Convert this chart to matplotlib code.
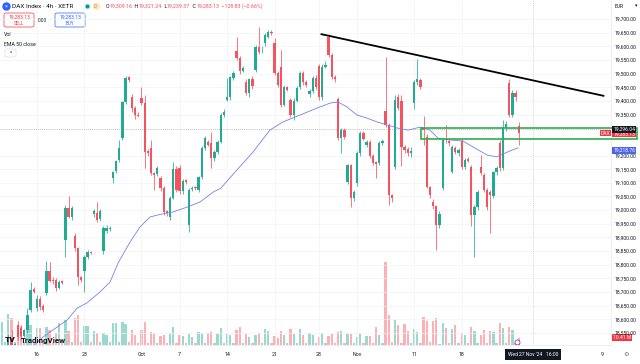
"""DAX Index 4h (XETR) candles with volume, EMA 50, trendline and support zone."""
import matplotlib
matplotlib.use("Agg")
import matplotlib.pyplot as plt
from matplotlib.lines import Line2D
from matplotlib.patches import FancyBboxPatch, Rectangle
import numpy as np

plt.rcParams.update({"font.family": ["Roboto", "DejaVu Sans"], "font.size": 3.6})

W, H = 640, 364
UP, DOWN = "#22ab94", "#f7525f"
INK = "#131722"
BLUE = "#4f63ec"

# ---- data (4h candles, oldest first) ----
opens = [
    18440, 18470, 18480, 18530, 18505, 18580, 18570, 18540, 18561, 18634,
    18710, 18640, 18675, 18650, 18696, 18777, 18745, 18745, 18715, 18740,
    18890, 19008, 18975, 18905, 18860, 18755, 18777, 18828, 18848, 18985,
    18990, 18967, 18850, 18925, 18930, 19118, 19143, 19183, 19264, 19396,
    19487, 19414, 19374, 19350, 19410, 19392, 19215, 19228, 19135, 19132,
    19118, 19081, 18995, 18975, 19044, 19150, 19154, 19070, 19110, 18945,
    19078, 19082, 19074, 19121, 19228, 19248, 19245, 19190, 19213, 19250,
    19348, 19405, 19414, 19484, 19583, 19557, 19510, 19469, 19429, 19480,
    19513, 19597, 19585, 19612, 19635, 19652, 19612, 19502, 19524, 19385,
    19451, 19403, 19350, 19400, 19451, 19502, 19469, 19425, 19436, 19484,
    19528, 19414, 19525, 19634, 19568, 19488, 19407, 19264, 19293, 19103,
    19165, 19044, 19099, 19209, 19282, 19238, 19250, 19198, 19176, 19172,
    19246, 19363, 19312, 19055, 19158, 19414, 19400, 19231, 19224, 19209,
    19392, 19470, 19477, 19300, 19268, 19085, 19030, 19015, 18945, 19081,
    19257, 19253, 19140, 19228, 19210, 19253, 19158, 19186, 19158, 18982,
    19011, 19158, 19129, 19074, 19066, 19052, 19140, 19246, 19154, 19300,
    19465, 19348, 19429, 19309.16,
]
highs = [
    18490, 18485, 18545, 18560, 18515, 18595, 18580, 18565, 18640, 18735,
    18720, 18690, 18685, 18655, 18815, 18810, 18755, 18750, 18745, 18745,
    19020, 19050, 19015, 18915, 18865, 18760, 18835, 18855, 18852, 19005,
    19030, 19005, 18940, 18945, 18940, 19145, 19185, 19255, 19400, 19490,
    19492, 19425, 19380, 19360, 19450, 19420, 19225, 19257, 19140, 19160,
    19125, 19090, 19000, 19050, 19175, 19160, 19165, 19115, 19115, 19080,
    19090, 19090, 19125, 19235, 19270, 19255, 19286, 19220, 19255, 19355,
    19370, 19484, 19492, 19510, 19634, 19565, 19528, 19480, 19485, 19490,
    19605, 19670, 19600, 19650, 19660, 19658, 19630, 19510, 19586, 19458,
    19455, 19410, 19410, 19455, 19510, 19510, 19475, 19445, 19490, 19495,
    19535, 19535, 19545, 19645, 19575, 19495, 19415, 19300, 19300, 19170,
    19170, 19075, 19215, 19290, 19290, 19258, 19258, 19205, 19180, 19252,
    19260, 19561, 19320, 19060, 19420, 19425, 19420, 19240, 19230, 19230,
    19475, 19555, 19485, 19345, 19280, 19090, 19040, 19020, 18995, 19265,
    19312, 19260, 19240, 19235, 19228, 19260, 19190, 19195, 19165, 19020,
    19075, 19202, 19135, 19080, 19075, 19145, 19160, 19255, 19330, 19325,
    19480, 19440, 19440, 19321.24,
]
lows = [
    18420, 18460, 18470, 18495, 18495, 18525, 18525, 18535, 18550, 18625,
    18695, 18630, 18635, 18625, 18690, 18735, 18730, 18705, 18710, 18728,
    18830, 18970, 18965, 18850, 18725, 18735, 18700, 18820, 18838, 18975,
    18955, 18960, 18840, 18915, 18925, 19100, 19135, 19175, 19255, 19390,
    19470, 19360, 19335, 19340, 19385, 19155, 19200, 19128, 19074, 19125,
    19070, 18982, 18980, 18965, 19040, 19065, 19060, 19060, 19095, 18920,
    19070, 19072, 19068, 19115, 19220, 19235, 19154, 19180, 19205, 19245,
    19340, 19400, 19405, 19478, 19550, 19500, 19505, 19420, 19415, 19445,
    19505, 19570, 19575, 19600, 19630, 19640, 19495, 19450, 19378, 19380,
    19435, 19340, 19330, 19395, 19445, 19460, 19450, 19415, 19430, 19445,
    19405, 19405, 19520, 19560, 19480, 19470, 19255, 19209, 19260, 19095,
    19010, 19035, 19090, 19200, 19255, 19230, 19190, 19165, 19118, 19165,
    19240, 19305, 19019, 19030, 19150, 19365, 19160, 19210, 19200, 19195,
    19370, 19460, 19445, 19240, 19080, 19045, 19005, 18855, 18935, 19075,
    19245, 19235, 19135, 19205, 19200, 19150, 19150, 19175, 18940, 18830,
    19000, 19130, 19065, 19000, 18916, 19045, 19130, 19145, 19148, 19290,
    19340, 19340, 19400, 19239.37,
]
closes = [
    18470, 18478, 18530, 18505, 18510, 18535, 18540, 18560, 18615, 18707,
    18700, 18675, 18645, 18635, 18777, 18740, 18740, 18715, 18737, 18732,
    19008, 18975, 19008, 18860, 18755, 18745, 18828, 18846, 18843, 18995,
    18965, 18997, 18935, 18935, 18935, 19140, 19180, 19228, 19396, 19484,
    19478, 19374, 19348, 19345, 19392, 19213, 19210, 19136, 19130, 19154,
    19081, 18993, 18990, 19044, 19150, 19074, 19070, 19107, 19103, 19074,
    19082, 19080, 19121, 19228, 19264, 19240, 19190, 19213, 19250, 19348,
    19360, 19415, 19487, 19502, 19557, 19510, 19521, 19429, 19480, 19455,
    19597, 19579, 19588, 19641, 19652, 19650, 19502, 19458, 19385, 19451,
    19440, 19348, 19400, 19447, 19502, 19469, 19458, 19436, 19484, 19451,
    19414, 19524, 19531, 19568, 19488, 19482, 19264, 19293, 19268, 19165,
    19044, 19066, 19209, 19282, 19260, 19250, 19198, 19172, 19169, 19246,
    19252, 19312, 19055, 19044, 19403, 19374, 19231, 19220, 19209, 19215,
    19469, 19480, 19451, 19295, 19085, 19055, 19015, 18945, 18986, 19257,
    19255, 19246, 19231, 19213, 19220, 19158, 19184, 19180, 18982, 19011,
    19066, 19136, 19074, 19011, 19055, 19140, 19154, 19154, 19304, 19315,
    19348, 19429, 19414, 19283.13,
]
volumes_m = [
    32.0, 4.2, 43.1, 37.5, 4.2, 25.0, 26.4, 4.2, 34.8, 27.8,
    4.2, 23.6, 23.6, 4.2, 25.0, 20.9, 4.2, 16.7, 30.6, 4.2,
    34.8, 19.5, 4.2, 37.5, 41.7, 4.2, 26.4, 26.4, 4.2, 19.5,
    16.7, 4.2, 16.7, 13.9, 4.2, 30.6, 30.6, 4.2, 32.0, 29.2,
    4.2, 20.9, 13.9, 2.8, 20.9, 32.0, 2.8, 18.1, 15.3, 2.8,
    12.5, 13.9, 2.8, 15.3, 25.0, 2.8, 13.9, 12.5, 2.8, 15.3,
    11.1, 2.8, 18.1, 16.7, 2.8, 16.7, 18.1, 2.8, 15.3, 23.6,
    2.8, 15.3, 13.9, 2.8, 20.9, 25.0, 2.8, 15.3, 11.1, 2.8,
    13.9, 16.7, 2.8, 22.2, 19.5, 2.8, 12.5, 9.7, 19.5, 13.9,
    2.8, 22.2, 15.3, 2.8, 22.2, 13.9, 2.8, 16.7, 13.9, 2.8,
    11.1, 16.7, 2.8, 12.5, 15.3, 2.8, 18.1, 19.5, 2.8, 15.3,
    15.3, 2.8, 11.1, 16.7, 2.8, 12.5, 12.5, 2.8, 25.0, 13.9,
    2.8, 115.4, 41.7, 4.2, 34.8, 27.8, 2.8, 29.2, 19.5, 2.8,
    22.2, 18.1, 2.8, 38.9, 33.4, 4.2, 33.4, 37.5, 1.4, 30.6,
    23.6, 2.8, 22.2, 27.8, 2.8, 16.7, 13.9, 2.8, 25.0, 19.5,
    2.8, 13.9, 20.9, 2.8, 19.5, 18.1, 2.8, 30.6, 23.6, 2.8,
    25.0, 20.9, 2.8, 10.41,
]

# EMA 50 read at sample bars
ema_bar = [4, 12.9, 20.5, 23.7, 26.8, 30.9, 34.1, 36.6, 40.4, 43.5, 46.7, 50.5,
           53.9, 58.4, 62.5, 66.6, 69, 74.1, 79.2, 84.5, 88.6, 94, 99.4, 103.5,
           106, 108.8, 112, 115.1, 118.3, 121.5, 124.6, 128.1, 131.9, 135, 137.5,
           141.3, 145.4, 148.6, 153, 156, 158.7, 160.9, 162.8]
ema_val = [18440, 18535, 18597, 18641, 18660, 18700, 18737, 18806, 18883, 18938,
           18975, 18986, 18993, 19011, 19030, 19066, 19080, 19147, 19213, 19293,
           19323, 19348, 19374, 19392, 19396, 19378, 19348, 19337, 19323, 19312,
           19301, 19293, 19304, 19293, 19264, 19257, 19253, 19231, 19202, 19195,
           19209, 19220, 19228]

trend_bar = [100.5, 190.0]
trend_val = [19645, 19418]
zone_bar = [132.2, 200.3]
zone_val = [19261, 19300]

price_ticks = [19700, 19650, 19600, 19550, 19500, 19450, 19400, 19350, 19200,
               19150, 19100, 19050, 19000, 18950, 18900, 18850, 18800, 18750,
               18700, 18650, 18600, 18550]
date_pos = [11, 26, 44, 56, 71, 86, 100, 112, 130, 145]
date_labels = ["16", "23", "Oct", "7", "14", "21", "28", "Nov", "11", "18"]

last_price = 19283.13
ema_last = 19218.76
cross_price = 19296.04
cross_bar = 167.5
last_volume = "10.41 M"


def fx(x):
    return x / W


def fy(y):
    return 1 - y / H


def run_text(fig, x, y, parts, size):
    renderer = fig.canvas.get_renderer()
    for s, color in parts:
        t = fig.text(fx(x), fy(y), s, color=color, fontsize=size, ha="left", va="center")
        x += t.get_window_extent(renderer).width


def tag(ax, y, text, face, dy=0.0, dx=1.6, ha="left"):
    ax.annotate(text, xy=(1, y), xycoords=("axes fraction", "data"),
                xytext=(dx, dy), textcoords="offset points", ha=ha, va="center",
                color="white", fontsize=3.6, zorder=20, annotation_clip=False,
                bbox=dict(boxstyle="square,pad=0.18", fc=face, ec="none"))


fig = plt.figure(figsize=(6.4, 3.64), dpi=100)
ax = fig.add_axes([0, fy(345), 611 / W, 345 / H])
vax = ax.twinx()
ax.set_zorder(2)
vax.set_zorder(1)
ax.patch.set_visible(False)

o, h, l, c = map(np.asarray, (opens, highs, lows, closes))
bars = np.arange(len(o))
colors = np.where(c >= o, UP, DOWN)

vax.bar(bars, volumes_m, width=0.72, color=colors, alpha=0.45, lw=0)
vax.set_ylim(0, 480)
vax.set_yticks([])
for s in vax.spines.values():
    s.set_visible(False)

ax.vlines(bars, l, h, colors=colors, lw=0.55, zorder=3)
ax.bar(bars, np.maximum(np.abs(c - o), 3.0), bottom=np.minimum(o, c), width=0.72,
       color=colors, lw=0, zorder=4)
ax.plot(ema_bar, ema_val, color="#7482e4", lw=0.6, zorder=5)
ax.plot(trend_bar, trend_val, color="black", lw=1.3, zorder=6, solid_capstyle="butt")
ax.add_patch(Rectangle((zone_bar[0], zone_val[0]), zone_bar[1] - zone_bar[0],
                       zone_val[1] - zone_val[0], fill=False, ec="#2fae4e", lw=1.2,
                       zorder=7, clip_on=False))
ax.axhline(cross_price, color="#a3a6af", lw=0.6, ls=(0, (1, 1.5)), zorder=2)
ax.axvline(cross_bar, color="#c3c6ce", lw=0.6, ls=(0, (1, 1.5)), zorder=2)

ax.set_xlim(-0.63, 192.1)
ax.set_ylim(18505.9, 19769.6)
ax.yaxis.tick_right()
ax.set_yticks(price_ticks, [f"{p:,.2f}" for p in price_ticks])
ax.set_xticks(date_pos, date_labels)
ax.tick_params(axis="y", length=0, pad=2.6, labelsize=3.6, labelcolor=INK)
ax.tick_params(axis="x", length=0, pad=5.0, labelsize=3.8, labelcolor=INK)
ax.grid(True, color="#f2f3f7", lw=0.5, zorder=0)
for name, s in ax.spines.items():
    s.set_visible(name in ("right", "bottom"))
    s.set_color("#e6e8ee")
    s.set_linewidth(0.5)

# price scale tags
tag(ax, last_price, f"{last_price:,.2f}", "#f23645", dy=-0.7)
tag(ax, cross_price, f"{cross_price:,.2f}", INK)
tag(ax, ema_last, f"{ema_last:,.2f}", BLUE)
tag(ax, last_price, "DAX", "#f23645", dy=-0.2, dx=-0.6, ha="right")
vax.annotate(last_volume, xy=(1, 10.41), xycoords=("axes fraction", "data"),
             xytext=(1.6, 0), textcoords="offset points", ha="left", va="center",
             color="white", fontsize=3.6, annotation_clip=False, zorder=20,
             bbox=dict(boxstyle="square,pad=0.18", fc="#f23645", ec="none"))
ax.annotate("Wed 27 Nov '24   16:00", xy=(cross_bar, 0), xycoords=("data", "axes fraction"),
            xytext=(0, -7.0), textcoords="offset points", ha="center", va="center",
            color="white", fontsize=3.6, annotation_clip=False,
            bbox=dict(boxstyle="square,pad=0.55", fc=INK, ec="none"))

# legend / header overlay
fig.add_artist(Line2D([fx(6)], [fy(6)], marker="o", ms=5, color="#2962ff",
                      transform=fig.transFigure))
fig.text(fx(6), fy(6.2), "×", color="white", fontsize=4, ha="center", va="center")
fig.text(fx(12), fy(6), "DAX Index · 4h · XETR", color=INK, fontsize=4.6,
         ha="left", va="center")
fig.add_artist(Line2D([fx(87)], [fy(6)], marker="o", ms=3.4, color="#c8ece4",
                      transform=fig.transFigure))
fig.add_artist(Line2D([fx(87)], [fy(6)], marker="o", ms=1.8, color="#089981",
                      transform=fig.transFigure))
fig.add_artist(Line2D([fx(95.5)], [fy(6)], marker="o", ms=4.2, color="#ffe7c2",
                      transform=fig.transFigure))
fig.text(fx(95.5), fy(6), "D", color="#f57c00", fontsize=3.4, ha="center", va="center")
run_text(fig, 106, 6, [("O", INK), ("19,309.16", DOWN), ("  H", INK), ("19,321.24", DOWN),
                       ("  L", INK), ("19,239.37", DOWN), ("  C", INK),
                       ("19,283.13", DOWN), ("  −128.83 (−0.66%)", DOWN)], 3.8)

for x0, color, word in [(4, "#f23645", "SELL"), (55, "#2962ff", "BUY")]:
    fig.add_artist(FancyBboxPatch((fx(x0), fy(27)), 30 / W, 14 / H,
                                  boxstyle="round,pad=0,rounding_size=0.004",
                                  fc="white", ec=color, lw=0.5, transform=fig.transFigure))
    fig.text(fx(x0 + 15), fy(17), f"{last_price:,.2f}", color=color, fontsize=3.6,
             ha="center", va="center")
    fig.text(fx(x0 + 15), fy(23.5), word, color=color, fontsize=3.3, ha="center", va="center")
fig.text(fx(42), fy(20), "0.00", color=INK, fontsize=3.4, ha="center", va="center")
fig.text(fx(4), fy(34), "Vol", color=INK, fontsize=3.8, ha="left", va="center")
fig.text(fx(4), fy(44), "EMA 50 close", color=INK, fontsize=3.8, ha="left", va="center")
fig.add_artist(FancyBboxPatch((fx(5), fy(57)), 11 / W, 8 / H,
                              boxstyle="round,pad=0,rounding_size=0.004",
                              fc="white", ec="#d1d4dc", lw=0.4, transform=fig.transFigure))
fig.text(fx(10.5), fy(53.5), "^", color=INK, fontsize=3.6, ha="center", va="center")

fig.text(fx(615), fy(6), "EUR", color=INK, fontsize=3.6, ha="left", va="center")
fig.text(fx(636), fy(6), "▾", color=INK, fontsize=3.5, ha="center", va="center")
fig.text(fx(602), fy(355), "9", color=INK, fontsize=3.8, ha="center", va="center")
fig.text(fx(626), fy(355), "⚙", color="#6a6d78", fontsize=4.5, ha="center", va="center")

fig.text(fx(5), fy(340), "TV", color=INK, fontsize=6, fontweight="heavy",
         ha="left", va="center")
fig.text(fx(21), fy(340), "TradingView", color=INK, fontsize=5.8, fontweight="bold",
         ha="left", va="center")
fig.add_artist(Line2D([fx(517)], [fy(342)], marker="o", ms=3.6, mfc="white",
                      mec="#9c27b0", mew=0.6, transform=fig.transFigure))

fig.savefig("out.png", dpi=100)
